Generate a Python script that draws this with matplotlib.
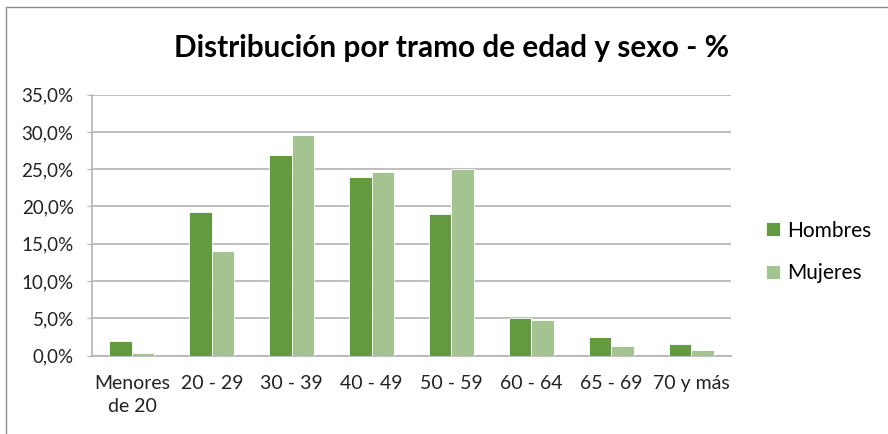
import matplotlib
matplotlib.use("Agg")
import matplotlib.pyplot as plt
from matplotlib.patches import Rectangle
from matplotlib.ticker import FuncFormatter
import numpy as np

categorias = ["Menores\nde 20", "20 - 29", "30 - 39", "40 - 49", "50 - 59", "60 - 64", "65 - 69", "70 y más"]
hombres = [1.9, 19.2, 26.9, 23.9, 19.0, 5.0, 2.5, 1.6]
mujeres = [0.3, 14.0, 29.6, 24.6, 25.0, 4.8, 1.3, 0.7]

col_h = "#639A3F"
col_m = "#A3C490"
gris = "#B3B3B3"

plt.rcParams['font.family'] = ['Lato', 'DejaVu Sans']

fig = plt.figure(figsize=(8.88, 4.34), dpi=100)
ax = fig.add_axes([92/888, 1 - 355.5/434, (731 - 92)/888, (355.5 - 94.7)/434])

x = np.arange(len(categorias))
w = 0.281
ax.bar(x - w/2, hombres, w, color=col_h, edgecolor="white", linewidth=0.6, label="Hombres", zorder=3)
ax.bar(x + w/2, mujeres, w, color=col_m, edgecolor="white", linewidth=0.6, label="Mujeres", zorder=3)

ax.set_xlim(-0.5, 7.5)
ax.set_ylim(0, 35)
ax.set_yticks(np.arange(0, 36, 5))
ax.yaxis.set_major_formatter(FuncFormatter(lambda v, p: f"{v:.1f}%".replace(".", ",")))
ax.set_xticks(x)
ax.set_xticklabels(categorias, fontsize=14, color="#222222", linespacing=1.45)
ax.tick_params(axis="y", labelsize=13.5, labelcolor="#222222", length=3.6, color=gris, pad=9.6)
ax.tick_params(axis="x", length=0, pad=14)

ax.grid(axis="y", color=gris, linewidth=1.2, zorder=0)
for s in ["top", "right"]:
    ax.spines[s].set_visible(False)
ax.spines["left"].set_color(gris)
ax.spines["bottom"].set_color(gris)
ax.spines["left"].set_linewidth(1.2)
ax.spines["bottom"].set_linewidth(1.2)

fig.text(451.5/888, 1 - 56.7/434, "Distribución por tramo de edad y sexo - %", ha="center", va="baseline",
         fontsize=21.4, fontweight="bold", color="black")

leg = fig.legend(loc="center left", bbox_to_anchor=(756/888, 1 - 252/434), frameon=False, borderpad=0,
                 fontsize=15, handlelength=0.65, handleheight=0.65, labelspacing=1.1, handletextpad=0.34)

fig.add_artist(Rectangle((6/888, -0.1), 1.0, 1 - 7/434 + 0.1, transform=fig.transFigure,
                         fill=False, edgecolor="#8C8C8C", linewidth=1))

fig.savefig("out.png", dpi=100)
